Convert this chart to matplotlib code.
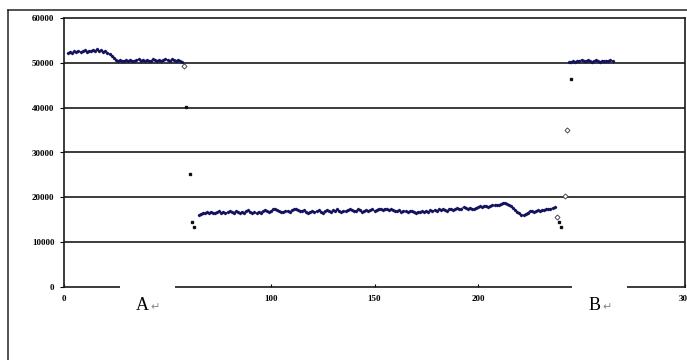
import matplotlib
matplotlib.use("Agg")
import matplotlib.pyplot as plt
from matplotlib.lines import Line2D
from matplotlib.patches import Rectangle
import numpy as np

# values in thousands
seg_a_start = 2
seg_a = [52.2, 52.5, 52.3, 52.6, 52.5, 52.7, 52.4, 52.6, 52.8, 52.5,
         52.7, 52.6, 52.9, 52.7, 53.0, 52.6, 52.8, 52.5, 52.7, 52.3,
         52.0, 51.6, 51.1, 50.7, 50.4, 50.6, 50.3, 50.5, 50.6, 50.4,
         50.7, 50.5, 50.3, 50.6, 50.8, 50.5, 50.7, 50.4, 50.6, 50.3,
         50.5, 50.8, 50.6, 50.4, 50.7, 50.5, 50.6, 50.9, 50.7, 50.4,
         50.8, 50.6, 50.3, 50.7, 50.5, 50.2]

seg_b_start = 65
seg_b = [16.0, 16.3, 16.5, 16.4, 16.7, 16.5, 16.8, 16.6, 16.4, 16.7,
         16.9, 16.6, 16.8, 16.5, 16.7, 17.0, 16.8, 16.6, 16.9, 16.7,
         16.5, 16.8, 16.6, 16.9, 17.1, 16.8, 16.6, 16.7, 16.4, 16.8,
         16.6, 16.9, 17.2, 16.9, 16.7, 17.0, 17.3, 17.5, 17.2, 16.9,
         16.7, 16.8, 16.9, 17.0, 16.8, 17.1, 17.3, 17.4, 17.2, 17.0,
         16.9, 17.1, 16.8, 16.6, 16.8, 17.0, 16.7, 16.9, 17.1, 16.8,
         16.6, 16.9, 17.2, 17.0, 16.8, 17.1, 16.9, 17.3, 17.0, 16.8,
         17.0, 16.9, 17.2, 17.4, 17.1, 16.9, 17.0, 17.3, 17.1, 16.8,
         17.0, 17.2, 16.9, 17.1, 17.3, 17.0, 17.2, 17.5, 17.4, 17.2,
         17.5, 17.3, 17.1, 17.4, 17.2, 17.0, 16.9, 17.1, 16.8, 17.0,
         16.9, 16.7, 16.9, 17.0, 16.8, 16.6, 16.8, 16.7, 16.9, 16.8,
         17.0, 16.8, 17.1, 16.9, 17.2, 17.0, 17.3, 17.1, 17.4, 17.2,
         17.0, 17.3, 17.5, 17.2, 17.4, 17.6, 17.3, 17.5, 17.8, 17.6,
         17.4, 17.7, 17.5, 17.3, 17.6, 17.8, 18.0, 17.9, 18.1, 18.0,
         17.8, 18.1, 18.3, 18.2, 18.4, 18.3, 18.5, 18.7, 18.8, 18.6,
         18.3, 18.0, 17.6, 17.2, 16.8, 16.4, 16.1, 16.0, 16.3, 16.6,
         16.9, 17.0, 16.8, 16.9, 17.1, 17.0, 17.2, 17.1, 17.3, 17.4,
         17.5, 17.6, 17.8]

seg_c_start = 244
seg_c = [50.1, 50.2, 50.3, 50.2, 50.5, 50.4, 50.7, 50.5, 50.3, 50.6,
         50.4, 50.2, 50.5, 50.6, 50.3, 50.2, 50.5, 50.4, 50.3, 50.5,
         50.6, 50.4]

# isolated transition points
dot_x = [59, 61, 62, 63, 239, 240, 245]
dot_y = [40.2, 25.2, 14.4, 13.3, 14.6, 13.3, 46.5]
hollow_x = [58, 238, 242, 243]
hollow_y = [49.4, 15.7, 20.2, 35.0]

yticks = [0, 10000, 20000, 30000, 40000, 50000, 60000]
xticks = [0, 50, 100, 150, 200, 250, 300]

W, H = 687, 360
navy = "#14145e"
fig = plt.figure(figsize=(W / 100, H / 100), dpi=100)
ax = fig.add_axes([64 / W, 1 - 287 / H, 621 / W, 269 / H])

for start, seg in [(seg_a_start, seg_a), (seg_b_start, seg_b), (seg_c_start, seg_c)]:
    xs = np.arange(start, start + len(seg))
    ax.plot(xs, np.array(seg) * 1000, color=navy, lw=0.6, marker="D", ms=1.2,
            mec=navy, mfc=navy, zorder=3)
ax.plot(dot_x, np.array(dot_y) * 1000, ls="none", marker="s", ms=1.8,
        color="#111111", zorder=3)
ax.plot(hollow_x, np.array(hollow_y) * 1000, ls="none", marker="D", ms=2.6,
        mfc="white", mec="#333333", mew=0.6, zorder=3)

ax.set_xlim(0, 300)
ax.set_ylim(0, 60000)
ax.set_yticks(yticks)
ax.set_yticklabels([str(v) for v in yticks])
ax.set_xticks(xticks)
ax.set_xticklabels([str(v) for v in xticks])
for v in yticks[1:-1]:
    ax.axhline(v, color="#1a1a1a", lw=1.2, zorder=1)

for s in ax.spines.values():
    s.set_color("#1a1a1a")
    s.set_linewidth(1.2)
ax.tick_params(axis="y", direction="out", length=3, width=0.8, pad=4,
               labelsize=6.5)
ax.tick_params(axis="x", direction="in", length=2, width=0.8, pad=6,
               labelsize=6.5)
for lab in ax.get_xticklabels() + ax.get_yticklabels():
    lab.set_family("Liberation Serif")
    lab.set_fontweight("bold")

# outer frame of the picture
fig.add_artist(Line2D([8 / W, 8 / W], [0, 1 - 10 / H], color="#222222", lw=1.1))
fig.add_artist(Line2D([8 / W, 1], [1 - 10 / H, 1 - 10 / H], color="#222222", lw=1.1))

# white label boxes covering the axis
for x0, letter in [(120, "A"), (572, "B")]:
    fig.add_artist(Rectangle((x0 / W, 1 - 322 / H), 55 / W, 42 / H,
                             transform=fig.transFigure, facecolor="white",
                             edgecolor="none", zorder=5))
    fig.text((x0 + 29) / W, 1 - 306 / H, letter, fontsize=13,
             family="Liberation Serif", ha="right", va="center", zorder=6)
    fig.text((x0 + 30) / W, 1 - 307 / H, "\u21b5", fontsize=8,
             family="DejaVu Sans", color="#888888", ha="left", va="center",
             zorder=6)

fig.savefig("out.png", dpi=100)
